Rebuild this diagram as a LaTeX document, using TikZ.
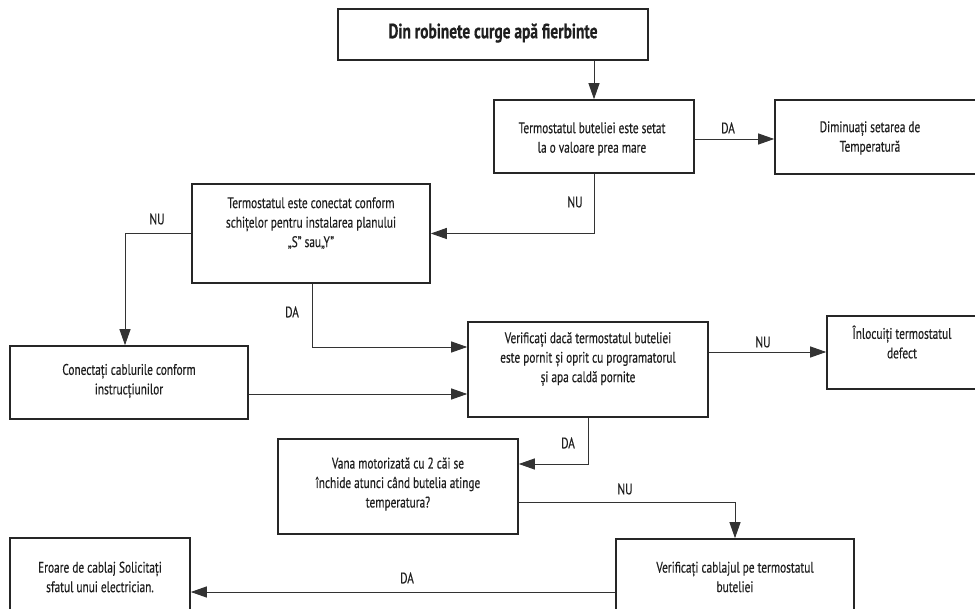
\documentclass[tikz,border=0pt]{standalone}
\usepackage{fontspec}
\setmainfont{PT Sans}[FakeStretch=0.74, FakeBold=0.35]
\usetikzlibrary{arrows.meta,positioning}

\tikzset{
  box/.style={draw=black!85, line width=1.6pt, inner sep=0pt},
  txt/.style={align=center, inner sep=0pt, font=\fontsize{15.3}{19.5}\selectfont, text=black!88},
  lbl/.style={inner sep=0pt, font=\fontsize{15.3}{16}\selectfont, text=black!88},
  conn/.style={draw=black!80, line width=0.9pt, -{Triangle[length=16pt,width=11pt]}}
}

\begin{document}
\begin{tikzpicture}[x=1pt,y=-1pt]
  \clip (0,0) rectangle (975,609);
  \fill[white] (0,0) rectangle (975,609);

  % boxes (outline only)
  \node[box, minimum width=310, minimum height=51] (b1) at (493,34.5) {};
  \node[box, minimum width=200, minimum height=73] (b2) at (594,136.5) {};
  \node[box, minimum width=260, minimum height=74] (b3) at (905,137) {};
  \node[box, minimum width=238, minimum height=99] (b4) at (311,233.5) {};
  \node[box, minimum width=238, minimum height=73] (b5) at (129,382.5) {};
  \node[box, minimum width=240, minimum height=95] (b6) at (588,369.5) {};
  \node[box, minimum width=200, minimum height=73] (b7) at (927,352.5) {};
  \node[box, minimum width=240, minimum height=95] (b8) at (398,486.5) {};
  \node[box, minimum width=238, minimum height=120] (b9) at (735,599) {};
  \node[box, minimum width=180, minimum height=120] (b10) at (100,598) {};

  % box texts
  \node[txt, font=\fontsize{20.8}{24}\selectfont\bfseries] (t1) at (493,33) {Din robinete curge apă fierbinte};
  \node[txt] (t2) at (592,139) {Termostatul buteliei este setat\\la o valoare prea mare};
  \node[txt] (t3) at (870,138) {Diminuați setarea de\\Temperatură};
  \node[txt] (t4) at (311,223) {Termostatul este conectat conform\\schițelor pentru instalarea planului\\„S” sau„Y”};
  \node[txt] (t5) at (129,381) {Conectați cablurile conform\\instrucțiunilor};
  \node[txt] (t6) at (588,359) {Verificați dacă termostatul buteliei\\este pornit și oprit cu programatorul\\și apa caldă pornite};
  \node[txt] (t7) at (902,342) {Înlocuiți termostatul\\defect};
  \node[txt] (t8) at (398,484) {Vana motorizată cu 2 căi se\\închide atunci când butelia atinge\\temperatura?};
  \node[txt] (t9) at (735,577) {Verificați cablajul pe termostatul\\buteliei};
  \node[txt] (t10) at (100,577) {Eroare de cablaj Solicitați\\sfatul unui electrician.};

  % connectors
  \draw[conn] (b2.north |- b1.south) -- (b2.north);
  \draw[conn] ([yshift=-2.5pt]b2.east) -- ([yshift=-2.5pt]b2.east -| b3.west);
  \draw[conn] (b2.south) |- (b4.east);
  \draw[conn] (b4.west) -| ([xshift=-4pt]b5.north);
  \draw[conn] ([xshift=1pt]b4.south) |- ([yshift=22.5pt]b6.west);
  \draw[conn] ([yshift=-11.5pt]b5.east) -- ([yshift=-11.5pt]b5.east -| b6.west);
  \draw[conn] ([yshift=17.5pt]b6.east) -- ([yshift=17.5pt]b6.east -| b7.west);
  \draw[conn] (b6.south) |- ([yshift=22.5pt]b8.east);
  \draw[conn] ([yshift=-15.5pt]b8.east) -| (b9.north);
  \draw[conn] ([yshift=7pt]b9.west) -- ([yshift=7pt]b9.west -| b10.east);

  % branch labels
  \node[lbl] (l1) at (728,128) {DA};
  \node[lbl] (l2) at (575,202) {NU};
  \node[lbl] (l3) at (157,219) {NU};
  \node[lbl] (l4) at (292,312) {DA};
  \node[lbl] (l5) at (763,342) {NU};
  \node[lbl] (l6) at (568,443) {DA};
  \node[lbl] (l7) at (625,489) {NU};
  \node[lbl] (l8) at (407,578) {DA};
\end{tikzpicture}
\end{document}
